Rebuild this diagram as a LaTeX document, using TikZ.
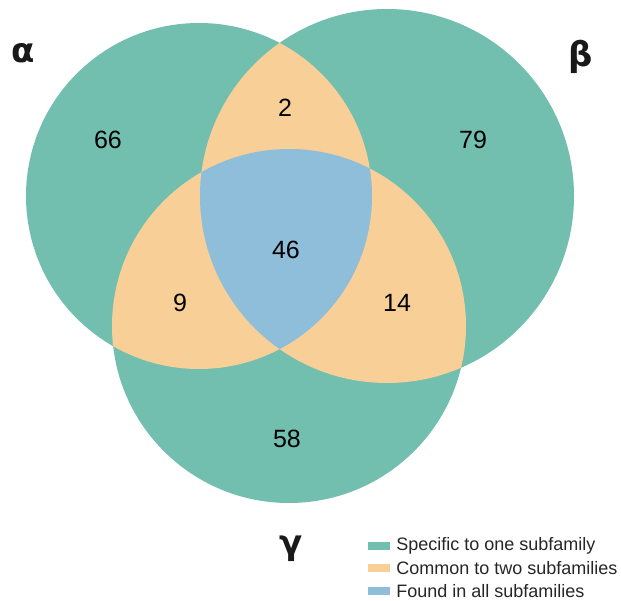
\documentclass[tikz,border=0pt]{standalone}
\usepackage{fontspec}
\setmainfont{Liberation Sans}
\newfontfamily\greekfont{DejaVu Sans}
\usepackage{tikz}
\usetikzlibrary{positioning}
\definecolor{specific}{RGB}{114,191,176}
\definecolor{common}{RGB}{248,207,150}
\definecolor{allfam}{RGB}{142,190,217}
\tikzstyle{count} = [font=\fontsize{25}{25}\selectfont, text=black]
\tikzstyle{subfamily} = [font=\greekfont\bfseries\fontsize{34}{34}\selectfont, text=black!90]
\tikzstyle{swatch} = [rectangle, minimum width=22pt, minimum height=8pt, inner sep=0pt]
\tikzstyle{legend} = [font=\fontsize{18}{18}\selectfont, text=black!85, inner sep=0pt]
\newcommand{\circA}{(199,196) circle (173pt)}
\newcommand{\circB}{(387,196) circle (187pt)}
\newcommand{\circG}{(289,326) circle (177pt)}

\begin{document}
\begin{tikzpicture}[x=1pt, y=-1pt]
		\useasboundingbox (0,0) rectangle (621,601);
		% one subfamily
		\fill [specific] \circA;
		\fill [specific] \circB;
		\fill [specific] \circG;
		% two subfamilies
		\begin{scope}
			\clip \circA;
			\fill [common] \circB;
			\fill [common] \circG;
		\end{scope}
		\begin{scope}
			\clip \circB;
			\fill [common] \circG;
		\end{scope}
		% all subfamilies
		\begin{scope}
			\clip \circA;
			\clip \circB;
			\fill [allfam] \circG;
		\end{scope}
		\node (OnlyA) [count] at (108,140) {66};
		\node (OnlyB) [count] at (473,140) {79};
		\node (OnlyG) [count] at (287,439) {58};
		\node (AB) [count] at (285,108) {2};
		\node (AG) [count] at (180,303) {9};
		\node (BG) [count] at (397,303) {14};
		\node (ABG) [count] at (286,250) {46};
		\node (Alpha) [subfamily] at (23,53) {α};
		\node (Beta) [subfamily] at (581,57) {β};
		\node (Gamma) [subfamily] at (291,549) {γ};
		\node (KeySpecific) [swatch, fill=specific] at (379,546) {};
		\node (KeyCommon) [swatch, fill=common, below = 14pt of KeySpecific] {};
		\node (KeyAll) [swatch, fill=allfam, below = 14pt of KeyCommon] {};
		\node (TextSpecific) [legend, right = 6pt of KeySpecific] {Specific to one subfamily};
		\node (TextCommon) [legend, right = 6pt of KeyCommon] {Common to two subfamilies};
		\node (TextAll) [legend, right = 6pt of KeyAll] {Found in all subfamilies};
\end{tikzpicture}
\end{document}
